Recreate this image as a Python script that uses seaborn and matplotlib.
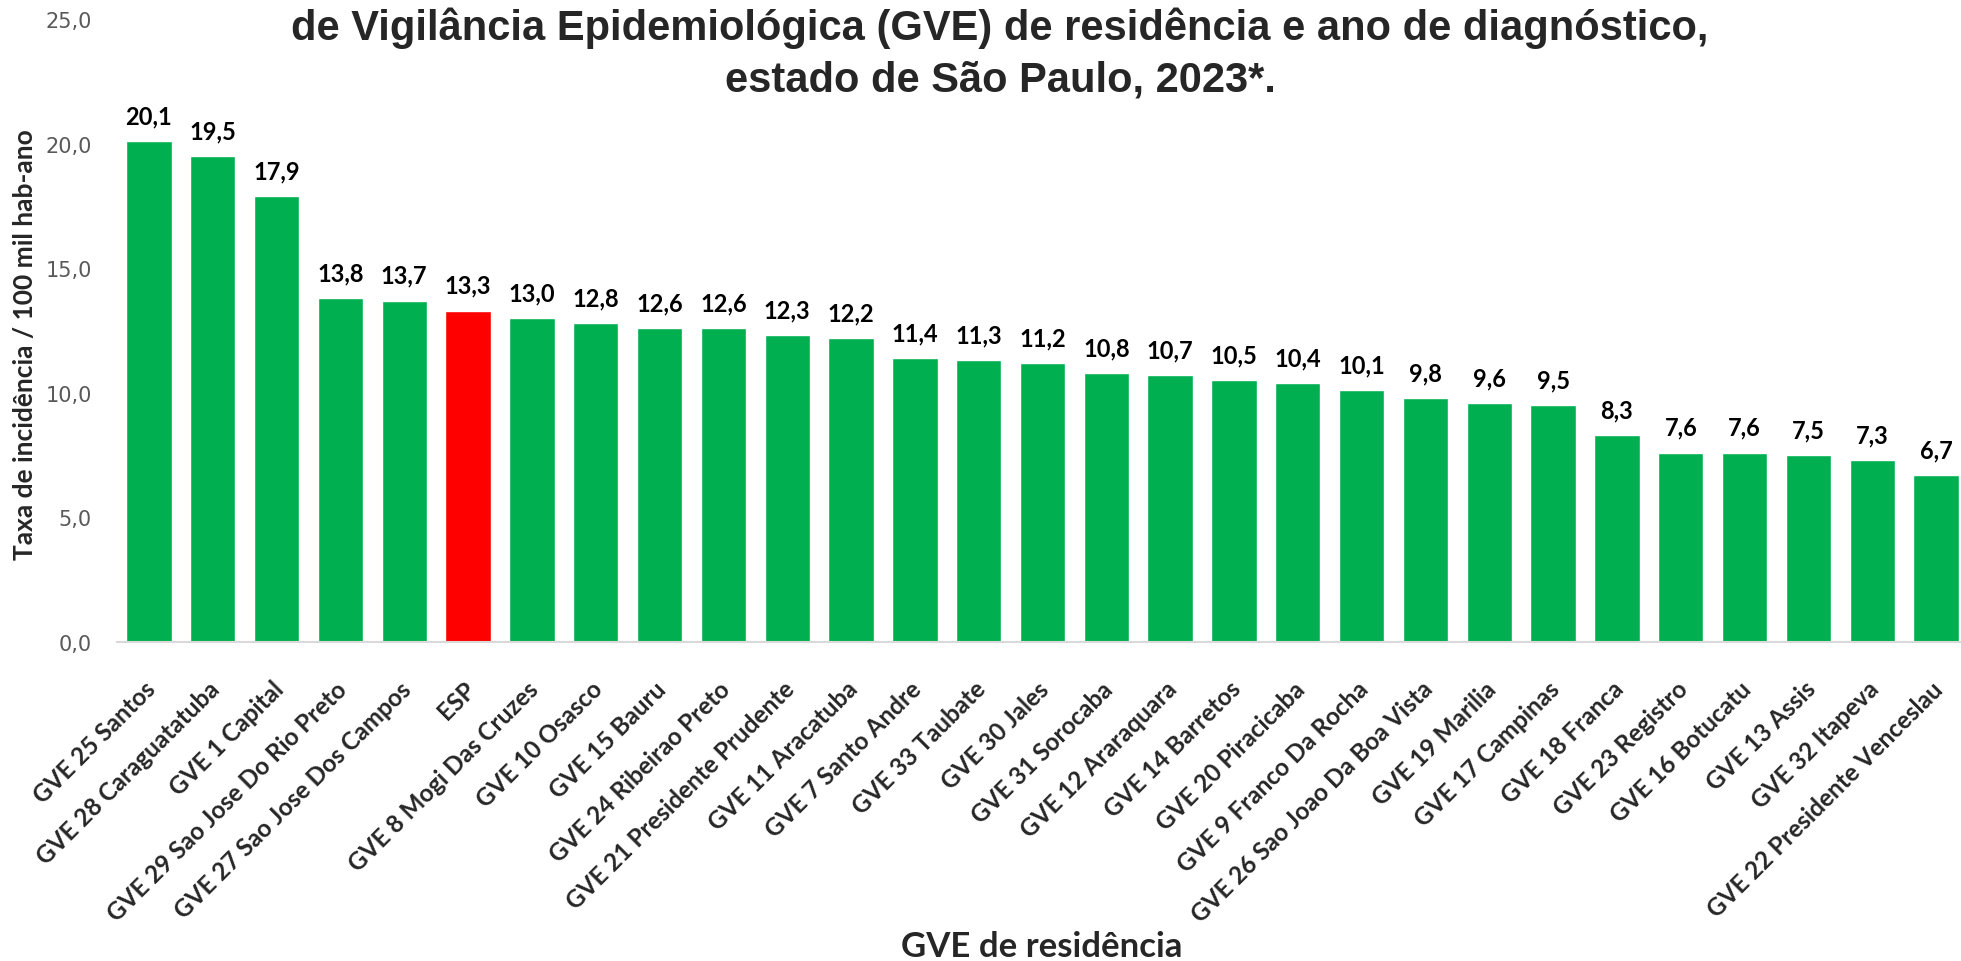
import numpy as np
import pandas as pd
import matplotlib
matplotlib.use("Agg")
import matplotlib.pyplot as plt
import matplotlib.transforms as mtransforms
import seaborn as sns

# -----------------------------
# Data
# -----------------------------

gve = [
    "GVE 25 Santos", "GVE 28 Caraguatatuba", "GVE 1 Capital",
    "GVE 29 Sao Jose Do Rio Preto", "GVE 27 Sao Jose Dos Campos", "ESP",
    "GVE 8 Mogi Das Cruzes", "GVE 10 Osasco", "GVE 15 Bauru",
    "GVE 24 Ribeirao Preto", "GVE 21 Presidente Prudente", "GVE 11 Aracatuba",
    "GVE 7 Santo Andre", "GVE 33 Taubate", "GVE 30 Jales",
    "GVE 31 Sorocaba", "GVE 12 Araraquara", "GVE 14 Barretos",
    "GVE 20 Piracicaba", "GVE 9 Franco Da Rocha", "GVE 26 Sao Joao Da Boa Vista",
    "GVE 19 Marilia", "GVE 17 Campinas", "GVE 18 Franca",
    "GVE 23 Registro", "GVE 16 Botucatu", "GVE 13 Assis",
    "GVE 32 Itapeva", "GVE 22 Presidente Venceslau",
]
taxa = [
    20.1, 19.5, 17.9, 13.8, 13.7, 13.3, 13.0, 12.8, 12.6, 12.6,
    12.3, 12.2, 11.4, 11.3, 11.2, 10.8, 10.7, 10.5, 10.4, 10.1,
    9.8, 9.6, 9.5, 8.3, 7.6, 7.6, 7.5, 7.3, 6.7,
]
y_ticks = [0, 5, 10, 15, 20, 25]

df = pd.DataFrame({"GVE": gve, "Taxa": taxa})
df["Grupo"] = np.where(df["GVE"] == "ESP", "ESP", "GVE")

# -----------------------------
# Plot
# -----------------------------

sns.set_style("white")
plt.rcParams["font.family"] = ["Lato", "DejaVu Sans"]

W, H = 1961, 962
fig = plt.figure(figsize=(W / 100, H / 100), dpi=100)
ax = fig.add_axes([117 / W, 1 - 643 / H, 1851 / W, 623 / H])

sns.barplot(data=df, x="GVE", y="Taxa", hue="Grupo",
            palette={"GVE": "#00B050", "ESP": "#FF0000"},
            width=0.71, dodge=False, legend=False, saturation=1, ax=ax)

# value labels above bars
for i, v in enumerate(taxa):
    ax.text(i, v + 0.55, f"{v:.1f}".replace(".", ","), ha="center", va="bottom",
            fontsize=17, fontweight="bold", color="black")

ax.set_xlim(-0.5, len(gve) - 0.5)
ax.set_ylim(0, 25)
ax.set_yticks(y_ticks)
ax.set_yticklabels([f"{t:.1f}".replace(".", ",") for t in y_ticks],
                   fontsize=15, color="#595959", family="DejaVu Sans")
ax.tick_params(axis="y", length=0, pad=18)
ax.tick_params(axis="x", length=0, pad=25)
ax.set_xticks(range(len(gve)))
ax.set_xticklabels(gve, rotation=45, ha="right", rotation_mode="anchor",
                   fontsize=17.5, fontweight="bold")
shift = mtransforms.ScaledTranslation(-5 / 100, 0, fig.dpi_scale_trans)
for lab in ax.get_xticklabels():
    lab.set_transform(lab.get_transform() + shift)
ax.set_xlabel("")
ax.set_ylabel("")

for s in ["top", "right", "left"]:
    ax.spines[s].set_visible(False)
ax.spines["bottom"].set_color("#D9D9D9")
ax.spines["bottom"].set_linewidth(1.5)

fig.text(1000 / W, 1 - 28 / H,
         "de Vigilância Epidemiológica (GVE) de residência e ano de diagnóstico,",
         ha="center", va="center", fontsize=30, fontweight="bold",
         family="Liberation Sans")
fig.text(1000 / W, 1 - 81 / H, "estado de São Paulo, 2023*.",
         ha="center", va="center", fontsize=30, fontweight="bold",
         family="Liberation Sans")

fig.text(25 / W, 1 - 345 / H, "Taxa de incidência / 100 mil hab-ano",
         rotation=90, ha="center", va="center", fontsize=19, fontweight="bold")
fig.text(1042 / W, 1 - 947 / H, "GVE de residência",
         ha="center", va="center", fontsize=25, fontweight="bold")

fig.savefig("out.png", dpi=100)
